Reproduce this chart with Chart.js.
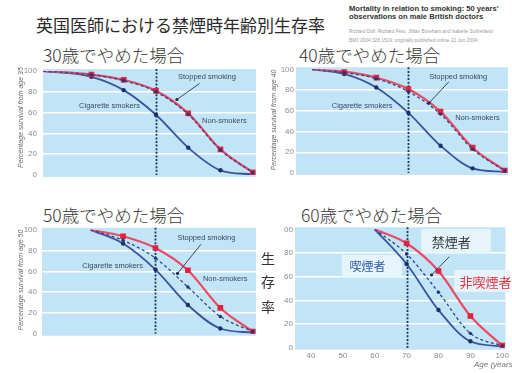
<!DOCTYPE html>
<html>
<head>
<meta charset="utf-8">
<script src="https://cdn.jsdelivr.net/npm/chart.js@4"></script>
<style>
html,body{margin:0;padding:0;background:#fff;}
body{width:512px;height:373px;position:relative;overflow:hidden;font-family:"Noto Sans CJK JP",sans-serif;}
.t{position:absolute;white-space:nowrap;line-height:1;color:#2a2a2a;}
.sub{font-size:17.5px;color:#3a3a3a;font-weight:300;}
.cite{position:absolute;white-space:nowrap;font-family:"Liberation Sans",Arial,sans-serif;}
canvas{position:absolute;}
</style>
</head>
<body>
<div class="t" style="left:36px;top:15.5px;font-size:17px;">英国医師における禁煙時年齢別生存率</div>
<div class="cite" style="left:349px;top:5px;font-weight:bold;font-size:7.6px;line-height:8.4px;color:#333;">Mortality in relation to smoking: 50 years'<br>observations on male British doctors</div>
<div class="cite" style="left:349px;top:27px;font-size:4.8px;line-height:9px;color:#9a9a9a;">Richard Doll, Richard Peto, Jillian Boreham and Isabelle Sutherland<br>BMJ 2004;328;1519; originally published online 22 Jun 2004;</div>

<div class="t sub" style="left:43px;top:45.5px;">30歳でやめた場合</div>
<div class="t sub" style="left:299px;top:45.5px;">40歳でやめた場合</div>
<div class="t sub" style="left:43px;top:205.5px;">50歳でやめた場合</div>
<div class="t sub" style="left:301px;top:205.5px;">60歳でやめた場合</div>

<canvas id="p35" width="260" height="140" style="left:0;top:60px;"></canvas>
<canvas id="p40" width="256" height="140" style="left:256px;top:60px;"></canvas>
<canvas id="p50" width="260" height="150" style="left:0;top:220px;"></canvas>
<canvas id="p60" width="256" height="153" style="left:256px;top:220px;"></canvas>

<script>
// Survival (%) of male British doctors, by age, from the age at which follow-up starts.
const AGES_35 = [35, 50, 60, 70, 80, 90, 100];
const NONSMOKERS_35 = [100, 96.6, 91.5, 81, 59.3, 24.6, 2.5];
const SMOKERS_35 = [100, 94.4, 81.6, 57.9, 26.3, 4.5, 0.5];
const STOPPED_35 = [100, 96.3, 90.8, 80, 58.3, 24, 2.3];

const AGES_40 = [40, 50, 60, 70, 80, 90, 100];
const NONSMOKERS_40 = [100, 97.7, 92, 81, 59.2, 24.4, 2.3];
const SMOKERS_40 = [100, 95.5, 82.4, 58, 26.3, 4.5, 1];
const STOPPED_40 = [100, 96.8, 91, 78.5, 56.8, 23, 2];

const AGES_50 = [50, 60, 70, 80, 90, 100];
const NONSMOKERS_50 = [100, 93.8, 82.5, 61.1, 24.8, 2];
const SMOKERS_50 = [100, 86.8, 61.7, 27.6, 5, 1];
const STOPPED_50 = [100, 89.9, 72.7, 45, 16.6, 2];

const AGES_60 = [60, 70, 80, 90, 100];
const NONSMOKERS_60 = [100, 88.2, 64.8, 26.8, 1.7];
const SMOKERS_60 = [100, 70.7, 31.8, 5.4, 1];
const STOPPED_60 = [100, 79.2, 46.8, 12.1, 1.5];

const Y_TICKS = [0, 20, 40, 60, 80, 100];
const X_TICKS = [40, 50, 60, 70, 80, 90, 100];
const MARK_AGE = 70;

function pts(ages, vals) { return ages.map((a, i) => ({x: a, y: vals[i]})); }

const EN_FONT = '"Liberation Sans", Arial, sans-serif';
const JP_FONT = '"Noto Sans CJK JP", sans-serif';

function decor(p) {
  return {
    id: 'decor',
    beforeDraw(chart) {
      const {ctx, chartArea: a} = chart;
      ctx.save();
      ctx.fillStyle = '#c1e4f6';
      ctx.fillRect(a.left, a.top - 2, a.right - a.left, a.bottom - a.top + 4);
      ctx.restore();
    },
    beforeDatasetsDraw(chart) {
      const {ctx, chartArea: a, scales: {x, y}} = chart;
      ctx.save();
      // label boxes sit under the curves
      (p.boxes || []).forEach(b => {
        const x1 = x.getPixelForValue(b.x1), x2 = x.getPixelForValue(b.x2);
        const y1 = y.getPixelForValue(b.y1), y2 = y.getPixelForValue(b.y2);
        ctx.fillStyle = 'rgba(232,246,252,0.95)';
        ctx.fillRect(x1, y1, x2 - x1, y2 - y1);
      });
      // dotted marker line
      const mx = Math.round(x.getPixelForValue(MARK_AGE)) + 0.5;
      ctx.strokeStyle = '#1c3a5e';
      ctx.lineWidth = 1.8;
      ctx.setLineDash([2, 1.6]);
      ctx.beginPath();
      ctx.moveTo(mx, a.top - 2);
      ctx.lineTo(mx, a.bottom + (p.lineExt || 0));
      ctx.stroke();
      ctx.restore();
    },
    afterDatasetsDraw(chart) {
      const {ctx, scales: {x, y}} = chart;
      ctx.save();
      (p.arrows || []).forEach(r => {
        const x1 = x.getPixelForValue(r.x1), y1 = y.getPixelForValue(r.y1);
        const x2 = x.getPixelForValue(r.x2), y2 = y.getPixelForValue(r.y2);
        ctx.strokeStyle = '#2b3450';
        ctx.lineWidth = 0.9;
        ctx.beginPath(); ctx.moveTo(x1, y1); ctx.lineTo(x2, y2); ctx.stroke();
        ctx.fillStyle = '#1e2a48';
        ctx.beginPath(); ctx.arc(x2, y2, 1.6, 0, Math.PI * 2); ctx.fill();
      });
      (p.labels || []).forEach(l => {
        ctx.font = l.font;
        ctx.fillStyle = l.color;
        ctx.textAlign = l.align || 'center';
        ctx.textBaseline = 'middle';
        ctx.fillText(l.text, x.getPixelForValue(l.x), y.getPixelForValue(l.y));
      });
      ctx.restore();
    },
    afterDraw(chart) {
      const {ctx} = chart;
      ctx.save();
      if (p.yTitle) {
        ctx.translate(p.yTitle.x, p.yTitle.y);
        ctx.rotate(-Math.PI / 2);
        ctx.font = 'italic 7px ' + EN_FONT;
        ctx.fillStyle = '#6a6a6a';
        ctx.textAlign = 'center';
        ctx.textBaseline = 'middle';
        ctx.fillText(p.yTitle.text, 0, 0);
      }
      ctx.restore();
      ctx.save();
      (p.extraText || []).forEach(t => {
        ctx.font = t.font;
        ctx.fillStyle = t.color;
        ctx.textAlign = t.align || 'center';
        ctx.textBaseline = 'middle';
        ctx.fillText(t.text, t.px, t.py);
      });
      ctx.restore();
    }
  };
}

function makePanel(id, ages, stopped, smokers, nonsmokers, p) {
  return new Chart(document.getElementById(id), {
    type: 'line',
    data: {
      datasets: [
        {
          label: 'Stopped smoking',
          data: pts(ages, stopped),
          borderColor: '#2c488c', borderWidth: 1.3, borderDash: [3, 2.5],
          pointRadius: c => c.dataIndex === 0 ? 0 : 1.7,
          pointBackgroundColor: '#22356f', pointBorderWidth: 0,
          cubicInterpolationMode: 'monotone', fill: false
        },
        {
          label: 'Non-smokers',
          data: pts(ages, nonsmokers),
          borderColor: '#ea4a63', borderWidth: 2.2,
          pointStyle: 'rect',
          pointRadius: c => c.dataIndex === 0 ? 0 : 4,
          pointBackgroundColor: '#e2223f', pointBorderWidth: 0,
          cubicInterpolationMode: 'monotone', fill: false
        },
        {
          label: 'Cigarette smokers',
          data: pts(ages, smokers),
          borderColor: '#3a55a0', borderWidth: 1.8,
          pointRadius: c => c.dataIndex === 0 ? 0 : 2.2,
          pointBackgroundColor: '#1e2f6c', pointBorderWidth: 0,
          cubicInterpolationMode: 'monotone', fill: false
        }
      ]
    },
    options: {
      responsive: false, animation: false, devicePixelRatio: 1,
      layout: {padding: p.pad},
      plugins: {legend: {display: false}, tooltip: {enabled: false}},
      scales: {
        x: {
          type: 'linear', min: 35, max: 101, display: !!p.showX,
          afterBuildTicks: s => { s.ticks = X_TICKS.map(v => ({value: v})); },
          grid: {display: false, drawTicks: false}, border: {display: false},
          ticks: {color: '#8c8c8c', font: {size: 8, family: EN_FONT}, padding: 3, maxRotation: 0},
          afterFit: s => { s.height = 14; }
        },
        y: {
          min: 0, max: 100,
          afterBuildTicks: s => { s.ticks = Y_TICKS.map(v => ({value: v})); },
          grid: {
            color: c => (c.tick && (c.tick.value === 0 || c.tick.value === 100)) ? 'rgba(0,0,0,0)' : '#ffffff',
            lineWidth: 1.5, drawTicks: false
          },
          border: {display: false},
          ticks: {
            color: '#8c8c8c', font: {size: 8, family: EN_FONT}, padding: p.tickPad,
            callback: p.tickFmt || (v => String(v))
          },
          afterFit: s => { s.width = p.yWidth; }
        }
      }
    },
    plugins: [decor(p)]
  });
}

const enLabel = (text, x, y) => ({text, x, y, font: '7.5px ' + EN_FONT, color: '#394a64'});

makePanel('p35', AGES_35, STOPPED_35, SMOKERS_35, NONSMOKERS_35, {
  pad: {left: 0, top: 11, right: 2, bottom: 11}, yWidth: 43, tickPad: 6,
  yTitle: {text: 'Percentage survival from age 35', x: 21, y: 57.5},
  labels: [
    enLabel('Stopped smoking', 85.8, 94),
    enLabel('Cigarette smokers', 55.6, 66),
    enLabel('Non-smokers', 91.2, 52.3)
  ],
  arrows: [{x1: 83.5, y1: 88, x2: 76.5, y2: 72.6}]
});

makePanel('p40', AGES_40, STOPPED_40, SMOKERS_40, NONSMOKERS_40, {
  pad: {left: 0, top: 9.3, right: 1, bottom: 13}, yWidth: 40, tickPad: 2,
  yTitle: {text: 'Percentage survival from age 40', x: 18, y: 60},
  labels: [
    enLabel('Stopped smoking', 85.5, 92.9),
    enLabel('Cigarette smokers', 55.6, 64.6),
    enLabel('Non-smokers', 91.5, 52.7)
  ],
  arrows: [{x1: 82.6, y1: 88, x2: 76.4, y2: 67.4}]
});

makePanel('p50', AGES_50, STOPPED_50, SMOKERS_50, NONSMOKERS_50, {
  pad: {left: 0, top: 9.3, right: 3, bottom: 22.3}, yWidth: 42, tickPad: 5,
  yTitle: {text: 'Percentage survival from age 50', x: 21.5, y: 60},
  labels: [
    enLabel('Stopped smoking', 85.7, 92.4),
    enLabel('Cigarette smokers', 56.8, 65),
    enLabel('Non-smokers', 91.5, 53)
  ],
  arrows: [{x1: 84, y1: 86, x2: 76.8, y2: 58}]
});

makePanel('p60', AGES_60, STOPPED_60, SMOKERS_60, NONSMOKERS_60, {
  pad: {left: 0, top: 9.3, right: 2, bottom: 11.3}, yWidth: 39, tickPad: 2,
  showX: true, lineExt: 2,
  tickFmt: v => v === 100 ? '00' : String(v),
  boxes: [
    {x1: 74.6, x2: 96.4, y1: 100.3, y2: 80},
    {x1: 49.7, x2: 68.5, y1: 78.3, y2: 59.7},
    {x1: 85, x2: 102.5, y1: 65.6, y2: 47}
  ],
  labels: [
    {text: '禁煙者', x: 84, y: 89.5, font: '13px ' + JP_FONT, color: '#333'},
    {text: '喫煙者', x: 57.7, y: 69, font: '12px ' + JP_FONT, color: '#2f5ca8'},
    {text: '非喫煙者', x: 86.6, y: 55.7, font: '13px ' + JP_FONT, color: '#e8323c', align: 'left'}
  ],
  arrows: [{x1: 83.4, y1: 76.9, x2: 77.8, y2: 61.4}],
  extraText: [
    {text: '生', px: 12, py: 39, font: '14px ' + JP_FONT, color: '#333'},
    {text: '存', px: 12, py: 62, font: '14px ' + JP_FONT, color: '#333'},
    {text: '率', px: 12, py: 87, font: '14px ' + JP_FONT, color: '#333'},
    {text: 'Age (years)', px: 218, py: 145, font: 'italic 8px ' + EN_FONT, color: '#777', align: 'left'}
  ]
});
</script>
</body>
</html>
